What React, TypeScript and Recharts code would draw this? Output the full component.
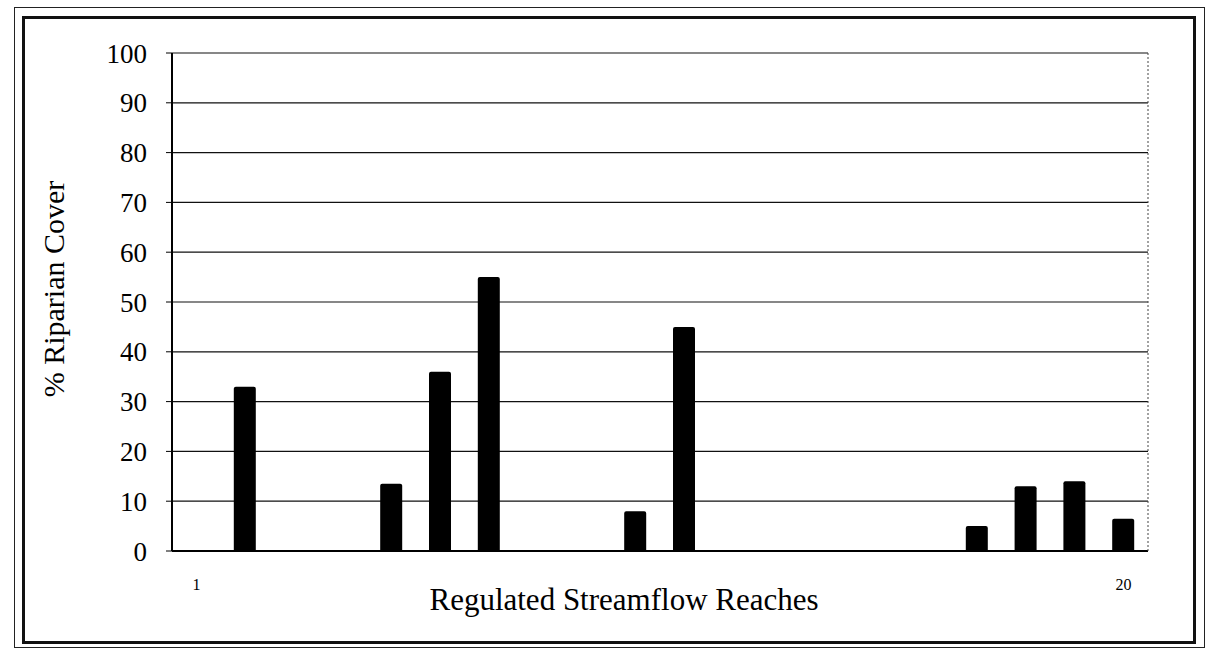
import { BarChart, Bar, XAxis, YAxis, CartesianGrid } from "recharts";

// reach numbers 1..20 along the x axis
const reaches = [1, 2, 3, 4, 5, 6, 7, 8, 9, 10, 11, 12, 13, 14, 15, 16, 17, 18, 19, 20];
// % riparian cover per reach (0 where no bar is drawn)
const cover = [0, 33, 0, 0, 13.5, 36, 55, 0, 0, 8, 45, 0, 0, 0, 0, 0, 5, 13, 14, 6.5];
const yTicks = [0, 10, 20, 30, 40, 50, 60, 70, 80, 90, 100];
const labeledReaches = [1, 20];

const data = reaches.map((r, i) => ({ reach: r, cover: cover[i] }));

const serif = "'Liberation Serif', 'Times New Roman', serif";

export default function App() {
  return (
    <div style={{ position: "absolute", left: 0, top: 0, width: 1212, height: 651, background: "#fff" }}>
      {/* double frame around the figure */}
      <div
        style={{
          position: "absolute",
          left: 14,
          top: 7,
          width: 1191,
          height: 641,
          border: "1.5px solid #222",
          boxSizing: "border-box",
        }}
      />
      <div
        style={{
          position: "absolute",
          left: 22,
          top: 16,
          width: 1174,
          height: 628,
          border: "3px solid #111",
          boxSizing: "border-box",
        }}
      />
      <div style={{ position: "absolute", left: 0, top: 0 }}>
        <BarChart
          width={1212}
          height={651}
          data={data}
          margin={{ top: 53, right: 63, bottom: 40, left: 60 }}
          barSize={22}
        >
          <CartesianGrid yAxisId="left" vertical={false} stroke="#111" strokeWidth={1.2} />
          <XAxis
            dataKey="reach"
            height={60}
            interval={0}
            tickLine={false}
            axisLine={{ stroke: "#000", strokeWidth: 2 }}
            tick={{ fill: "#000", fontSize: 16, fontFamily: serif }}
            tickFormatter={(v) => (labeledReaches.includes(v) ? String(v) : "")}
            tickMargin={22}
            label={() => (
              <text x={624} y={610} textAnchor="middle" fill="#000" fontSize={31} fontFamily={serif}>
                Regulated Streamflow Reaches
              </text>
            )}
          />
          <YAxis
            yAxisId="left"
            width={112}
            domain={[0, 100]}
            ticks={yTicks}
            interval={0}
            tickSize={6}
            tickLine={{ stroke: "#000" }}
            axisLine={{ stroke: "#000", strokeWidth: 2 }}
            tick={{ fill: "#000", fontSize: 27, fontFamily: serif }}
            tickMargin={19}
            label={() => (
              <text
                x={64}
                y={289}
                transform="rotate(-90 64 289)"
                textAnchor="middle"
                fill="#000"
                fontSize={30}
                fontFamily={serif}
              >
                % Riparian Cover
              </text>
            )}
          />
          <YAxis
            yAxisId="right"
            orientation="right"
            width={1}
            domain={[0, 100]}
            tick={false}
            tickLine={false}
            axisLine={{ stroke: "#444", strokeDasharray: "2 2" }}
          />
          <Bar yAxisId="left" dataKey="cover" fill="#000" radius={[2, 2, 0, 0]} isAnimationActive={false} />
        </BarChart>
      </div>
    </div>
  );
}
